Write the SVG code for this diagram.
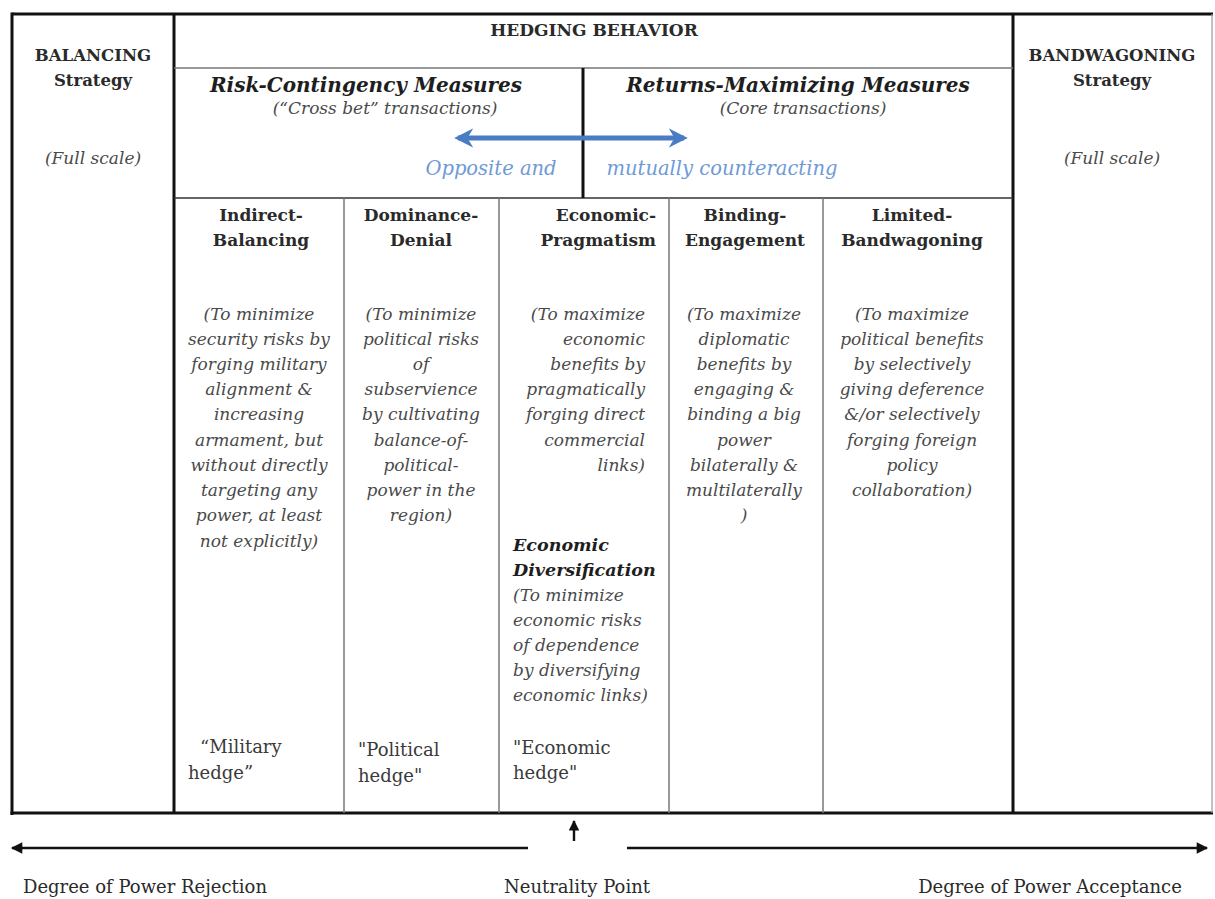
<svg xmlns="http://www.w3.org/2000/svg" width="1215" height="899" viewBox="0 0 1215 899">
<style>
text{font-family:"DejaVu Serif","Liberation Serif",serif;}
.cap{font-size:16.5px;font-weight:bold;fill:#2a2a2a;text-anchor:middle;}
.ch{font-size:17px;font-weight:bold;fill:#2a2a2a;text-anchor:middle;}
.hd{font-size:17px;font-weight:bold;fill:#2a2a2a;}
.ms{font-size:20px;font-weight:bold;font-style:italic;fill:#1e1e1e;text-anchor:middle;}
.it{font-size:17px;font-style:italic;fill:#4a4a4a;}
.bi{font-size:17.5px;font-weight:bold;font-style:italic;fill:#1e1e1e;}
.q{font-size:18px;fill:#3a3a3a;}
.blue{font-size:19.5px;font-style:italic;fill:#6f9ad6;}
.bt{font-size:18px;fill:#2a2a2a;text-anchor:middle;}
.mid{text-anchor:middle;}
.end{text-anchor:end;}
.thick{stroke:#111;stroke-width:3;fill:none;}
.thin{stroke:#777;stroke-width:1.5;fill:none;}
.dark{stroke:#333;stroke-width:1.6;fill:none;}
</style>
<defs>
<marker id="ah" viewBox="0 0 10 10" refX="9" refY="5" markerWidth="5" markerHeight="4.4" orient="auto-start-reverse" markerUnits="strokeWidth">
<path d="M0,0 L10,5 L0,10 z" fill="#111"/>
</marker>
<marker id="bh" viewBox="0 0 10 10" refX="8" refY="5" markerWidth="3.8" markerHeight="4" orient="auto-start-reverse" markerUnits="strokeWidth">
<path d="M0,0 L10,5 L0,10 L3,5 z" fill="#4a7cc4"/>
</marker>
</defs>
<rect width="1215" height="899" fill="#fff"/>

<g id="frame">
<line x1="12" y1="14" x2="1213" y2="14" class="thick"/>
<line x1="12" y1="12.5" x2="12" y2="815" class="thick"/>
<line x1="10.5" y1="813" x2="1213" y2="813" class="thick" stroke-width="3.5"/>
<line x1="1212" y1="14" x2="1212" y2="813" stroke="#999" stroke-width="1.2"/>
<line x1="174" y1="14" x2="174" y2="813" class="thick" stroke-width="2.5"/>
<line x1="1013" y1="14" x2="1013" y2="813" class="thick"/>
<line x1="174" y1="68" x2="1013" y2="68" class="thin"/>
<line x1="174" y1="198" x2="1013" y2="198" class="dark"/>
<line x1="583" y1="68" x2="583" y2="198" class="thick"/>
<line x1="344" y1="198" x2="344" y2="813" class="thin"/>
<line x1="499" y1="198" x2="499" y2="813" class="thin"/>
<line x1="669" y1="198" x2="669" y2="813" class="thin"/>
<line x1="823" y1="198" x2="823" y2="813" class="thin"/>
</g>

<g id="balancing">
<text class="cap" x="93" y="61">BALANCING</text>
<text class="cap" x="93" y="86">Strategy</text>
<text class="it mid" x="93" y="164">(Full scale)</text>
</g>

<g id="bandwagoning">
<text class="cap" x="1112" y="61">BANDWAGONING</text>
<text class="cap" x="1112" y="86">Strategy</text>
<text class="it mid" x="1112" y="164">(Full scale)</text>
</g>

<g id="hedging">
<text class="cap" x="594" y="36" style="font-size:17px">HEDGING BEHAVIOR</text>
</g>

<g id="risk-contingency">
<text class="ms" x="366" y="92">Risk-Contingency Measures</text>
<text class="it mid" x="385" y="114">(“Cross bet” transactions)</text>
<text class="blue mid" x="491" y="175">Opposite and</text>
</g>

<g id="returns-maximizing">
<text class="ms" x="798" y="92">Returns-Maximizing Measures</text>
<text class="it mid" x="803" y="114">(Core transactions)</text>
<text class="blue mid" x="722" y="175">mutually counteracting</text>
</g>

<g id="indirect-balancing">
<text class="ch" x="261" y="221">Indirect-</text>
<text class="ch" x="261" y="246">Balancing</text>
<text class="it mid" x="259"><tspan x="259" y="320">(To minimize</tspan><tspan x="259" y="345">security risks by</tspan><tspan x="259" y="370">forging military</tspan><tspan x="259" y="395">alignment &amp;</tspan><tspan x="259" y="420">increasing</tspan><tspan x="259" y="446">armament, but</tspan><tspan x="259" y="471">without directly</tspan><tspan x="259" y="496">targeting any</tspan><tspan x="259" y="521">power, at least</tspan><tspan x="259" y="547">not explicitly)</tspan></text>
<text class="q"><tspan x="200" y="753">“Military</tspan><tspan x="188" y="779">hedge”</tspan></text>
</g>

<g id="dominance-denial">
<text class="ch" x="421" y="221">Dominance-</text>
<text class="ch" x="421" y="246">Denial</text>
<text class="it mid"><tspan x="421" y="320">(To minimize</tspan><tspan x="421" y="345">political risks</tspan><tspan x="421" y="370">of</tspan><tspan x="421" y="395">subservience</tspan><tspan x="421" y="420">by cultivating</tspan><tspan x="421" y="446">balance-of-</tspan><tspan x="421" y="471">political-</tspan><tspan x="421" y="496">power in the</tspan><tspan x="421" y="521">region)</tspan></text>
<text class="q"><tspan x="358" y="756">"Political</tspan><tspan x="358" y="782">hedge"</tspan></text>
</g>

<g id="economic-pragmatism">
<text class="hd end" x="656" y="221">Economic-</text>
<text class="hd end" x="656" y="246">Pragmatism</text>
<text class="it end"><tspan x="645" y="320">(To maximize</tspan><tspan x="645" y="345">economic</tspan><tspan x="645" y="370">benefits by</tspan><tspan x="645" y="395">pragmatically</tspan><tspan x="645" y="420">forging direct</tspan><tspan x="645" y="446">commercial</tspan><tspan x="645" y="471">links)</tspan></text>
<text class="bi"><tspan x="513" y="551">Economic</tspan><tspan x="513" y="576">Diversification</tspan></text>
<text class="it"><tspan x="513" y="601">(To minimize</tspan><tspan x="513" y="626">economic risks</tspan><tspan x="513" y="651">of dependence</tspan><tspan x="513" y="676">by diversifying</tspan><tspan x="513" y="701">economic links)</tspan></text>
<text class="q"><tspan x="513" y="754">"Economic</tspan><tspan x="513" y="779">hedge"</tspan></text>
</g>

<g id="binding-engagement">
<text class="ch" x="745" y="221">Binding-</text>
<text class="ch" x="745" y="246">Engagement</text>
<text class="it mid"><tspan x="744" y="320">(To maximize</tspan><tspan x="744" y="345">diplomatic</tspan><tspan x="744" y="370">benefits by</tspan><tspan x="744" y="395">engaging &amp;</tspan><tspan x="744" y="420">binding a big</tspan><tspan x="744" y="446">power</tspan><tspan x="744" y="471">bilaterally &amp;</tspan><tspan x="744" y="496">multilaterally</tspan><tspan x="744" y="521">)</tspan></text>
</g>

<g id="limited-bandwagoning">
<text class="ch" x="912" y="221">Limited-</text>
<text class="ch" x="912" y="246">Bandwagoning</text>
<text class="it mid"><tspan x="912" y="320">(To maximize</tspan><tspan x="912" y="345">political benefits</tspan><tspan x="912" y="370">by selectively</tspan><tspan x="912" y="395">giving deference</tspan><tspan x="912" y="420">&amp;/or selectively</tspan><tspan x="912" y="446">forging foreign</tspan><tspan x="912" y="471">policy</tspan><tspan x="912" y="496">collaboration)</tspan></text>
</g>

<g id="axis-labels">
<text class="bt" x="145" y="893">Degree of Power Rejection</text>
<text class="bt" x="577" y="893">Neutrality Point</text>
<text class="bt" x="1050" y="893">Degree of Power Acceptance</text>
</g>

<g id="connectors">
<line x1="458" y1="138" x2="684" y2="138" stroke="#4a7cc4" stroke-width="5" marker-start="url(#bh)" marker-end="url(#bh)"/>
<line x1="528" y1="848" x2="12" y2="848" stroke="#111" stroke-width="2.6" marker-end="url(#ah)"/>
<line x1="627" y1="848" x2="1207" y2="848" stroke="#111" stroke-width="2.6" marker-end="url(#ah)"/>
<line x1="574" y1="841" x2="574" y2="821" stroke="#111" stroke-width="2.4" marker-end="url(#ah)"/>
</g>
</svg>
